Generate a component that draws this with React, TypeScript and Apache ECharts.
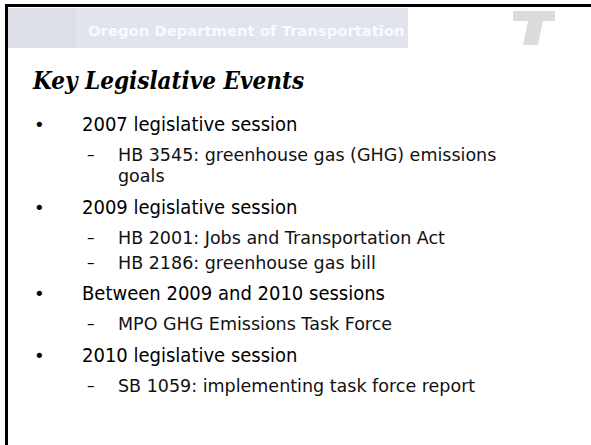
import React, { useEffect, useRef } from "react";
import * as echarts from "echarts";

const title = "Key Legislative Events";
const headerText = "Oregon Department of Transportation";
// level: 1 = bullet, 2 = dash sub-item, 3 = continuation line
const lines: [number, string, number][] = [
  [1, "2007 legislative session", 124],
  [2, "HB 3545: greenhouse gas (GHG) emissions", 155],
  [3, "goals", 176],
  [1, "2009 legislative session", 207],
  [2, "HB 2001: Jobs and Transportation Act", 238],
  [2, "HB 2186: greenhouse gas bill", 263],
  [1, "Between 2009 and 2010 sessions", 293],
  [2, "MPO GHG Emissions Task Force", 324],
  [1, "2010 legislative session", 355],
  [2, "SB 1059: implementing task force report", 386],
];

export default function App() {
  const ref = useRef<HTMLDivElement>(null);
  useEffect(() => {
    const chart = echarts.init(ref.current!, null, { renderer: "svg" });
    const font = "'DejaVu Sans', Verdana, sans-serif";
    const fontC = "'DejaVu Sans Condensed', 'DejaVu Sans', sans-serif";
    const elements: any[] = [];
    // header band
    elements.push({ type: "rect", shape: { x: 8, y: 8, width: 400, height: 40 }, style: { fill: "#e1e4ec" } });
    elements.push({ type: "rect", shape: { x: 8, y: 8, width: 68, height: 40 }, style: { fill: "#dcdfe7" } });
    elements.push({
      type: "text", x: 88, y: 30,
      style: { text: headerText, fill: "#ffffff", font: `bold 14.8px ${font}`, textVerticalAlign: "middle", opacity: 0.85 },
    });
    // right T logo
    elements.push({
      type: "polygon",
      shape: { points: [[513, 11], [555, 11], [555, 21], [543, 21], [538, 45], [523, 45], [528, 21], [513, 21]] },
      style: { fill: "#dcdcdc" },
    });
    // border
    elements.push({ type: "line", shape: { x1: 5, y1: 5.5, x2: 591, y2: 5.5 }, style: { stroke: "#000", lineWidth: 3 } });
    elements.push({ type: "line", shape: { x1: 6.5, y1: 4, x2: 6.5, y2: 445 }, style: { stroke: "#000", lineWidth: 3 } });
    // title
    elements.push({
      type: "text", x: 33, y: 80,
      style: { text: title, fill: "#000", font: `italic bold 24px 'DejaVu Serif Condensed', 'DejaVu Serif', serif`, textVerticalAlign: "middle" },
    });
    lines.forEach(([lvl, txt, y]) => {
      if (lvl === 1) {
        elements.push({ type: "text", x: 34, y, style: { text: "•", fill: "#000", font: `18px ${font}`, textVerticalAlign: "middle" } });
        elements.push({ type: "text", x: 82, y, style: { text: txt, fill: "#000", font: `20px ${fontC}`, textVerticalAlign: "middle" } });
      } else {
        if (lvl === 2) {
          elements.push({ type: "text", x: 87, y, style: { text: "–", fill: "#000", font: `15px ${font}`, textVerticalAlign: "middle" } });
        }
        elements.push({ type: "text", x: 118, y, style: { text: txt, fill: "#111", font: `17.5px ${font}`, textVerticalAlign: "middle" } });
      }
    });
    chart.setOption({ animation: false, backgroundColor: "#ffffff", graphic: { elements } });
    return () => chart.dispose();
  }, []);
  return <div ref={ref} style={{ position: "fixed", left: 0, top: 0, width: 591, height: 445 }} />;
}
